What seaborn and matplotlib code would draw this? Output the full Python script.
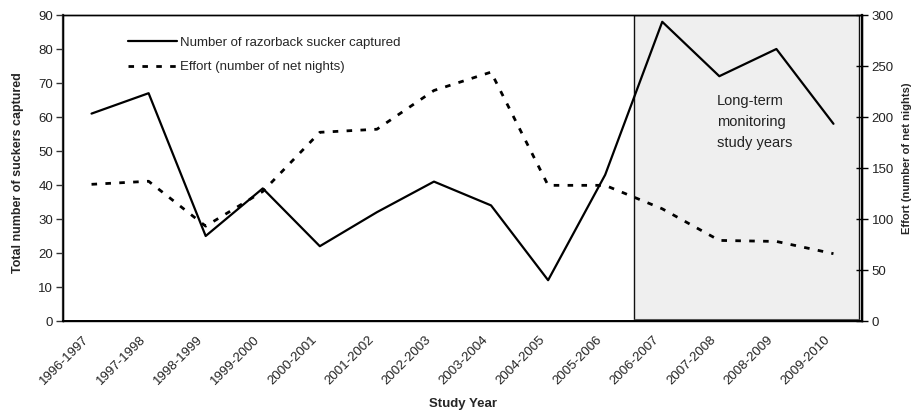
import matplotlib
matplotlib.use("Agg")
import matplotlib.pyplot as plt
import matplotlib.patches as mpatches
from matplotlib.lines import Line2D
from matplotlib.transforms import ScaledTranslation
import seaborn as sns
import pandas as pd

# ---- data ----
years = ['1996-1997', '1997-1998', '1998-1999', '1999-2000', '2000-2001',
         '2001-2002', '2002-2003', '2003-2004', '2004-2005', '2005-2006',
         '2006-2007', '2007-2008', '2008-2009', '2009-2010']
suckers = [61, 67, 25, 39, 22, 32, 41, 34, 12, 43, 88, 72, 80, 58]
effort = [134, 137, 93, 127, 185, 188, 226, 244, 133, 133, 110, 79, 78, 66]
left_ticks = [0, 10, 20, 30, 40, 50, 60, 70, 80, 90]
right_ticks = [0, 50, 100, 150, 200, 250, 300]
series_labels = ['Number of razorback sucker captured', 'Effort (number of net nights)']
box_text = 'Long-term\nmonitoring\nstudy years'
ltm_start = '2006-2007'

sns.set_style('white')
plt.rcParams['font.family'] = ['Liberation Sans', 'DejaVu Sans']

df = pd.DataFrame({'pos': range(len(years)), 'year': years,
                   'suckers': suckers, 'effort': effort})

fig = plt.figure(figsize=(9.13, 4.11), dpi=100)
ax = fig.add_axes([63/913, 1-321/411, (862-63)/913, (321-15)/411])
ax2 = ax.twinx()

n = len(years)
ax.set_xlim(-0.5, n - 0.5)
ax.set_ylim(0, 90)
ax2.set_ylim(0, 300)

# shaded long-term monitoring box
x0 = years.index(ltm_start) - 0.5
rect = mpatches.Rectangle((x0, 0), (n - 0.55) - x0, 90, facecolor='#EFEFEF',
                          edgecolor='#111111', linewidth=1.0, zorder=0.5)
ax.add_patch(rect)
ax.plot([x0, n - 0.55], [0.3, 0.3], color='#555555', lw=2.2, zorder=0.6,
        solid_capstyle='butt')

sns.lineplot(data=df, x='pos', y='suckers', ax=ax, color='black',
             linewidth=1.6, zorder=3)
sns.lineplot(data=df, x='pos', y='effort', ax=ax2, color='black',
             linewidth=2.0, zorder=3)
ax2.lines[0].set_dashes([2.0, 3.0])

ax.text(10.96, 66.8, box_text, ha='left', va='top', fontsize=10.5,
        color='#222222', linespacing=1.65, zorder=4)

# x axis ticks: marks at boundaries, labels at centers
ax.set_xticks([i - 0.5 for i in range(n + 1)])
ax.set_xticklabels([])
ax.set_xticks(list(range(n)), minor=True)
ax.set_xticklabels(years, minor=True, rotation=45, ha='right', va='center',
                   rotation_mode='anchor', fontsize=9.5, color='#222222')
ax.tick_params(axis='x', which='major', length=4, width=1, direction='out',
               color='black')
ax.tick_params(axis='x', which='minor', length=0, pad=12)
for lab in ax.get_xticklabels(minor=True):
    lab.set_transform(lab.get_transform() + ScaledTranslation(-5/100, 0, fig.dpi_scale_trans))

ax.set_yticks(left_ticks)
ax.set_yticklabels([str(t) for t in left_ticks], fontsize=9.5, color='#222222')
ax.tick_params(axis='y', length=5, width=1, direction='out', pad=2, left=True,
               color='#333333')
ax2.set_yticks(right_ticks)
ax2.set_yticklabels([str(t) for t in right_ticks], fontsize=9.5, color='#222222')
ax2.tick_params(axis='y', length=8, width=1, direction='inout', pad=3,
                right=True, color='black')

ax.set_xlabel('Study Year', fontsize=9.5, fontweight='bold', labelpad=8)
ax.set_ylabel('Total number of suckers captured', fontsize=9,
              fontweight='bold')
ax2.set_ylabel(series_labels[1], fontsize=8, fontweight='bold')
ax2.yaxis.set_label_coords(1.0495, 0.533)
ax.yaxis.set_label_coords(-0.049, 0.485)

for a in (ax, ax2):
    for s in a.spines.values():
        s.set_visible(True)
        s.set_color('black')
        s.set_linewidth(1.0)
ax.spines['left'].set_linewidth(1.6)
ax.spines['left'].set_color('#333333')
ax2.spines['right'].set_linewidth(1.6)
ax.spines['bottom'].set_linewidth(1.4)

handles = [Line2D([], [], color='black', lw=1.6),
           Line2D([], [], color='black', lw=2.0, dashes=[2.0, 3.0])]
ax2.legend(handles, series_labels, loc='upper left',
           bbox_to_anchor=(0.081, 0.929), frameon=False, fontsize=9.5,
           handlelength=3.7, handletextpad=0.3, labelspacing=0.92,
           borderaxespad=0, borderpad=0)

fig.savefig('out.png', dpi=100)
